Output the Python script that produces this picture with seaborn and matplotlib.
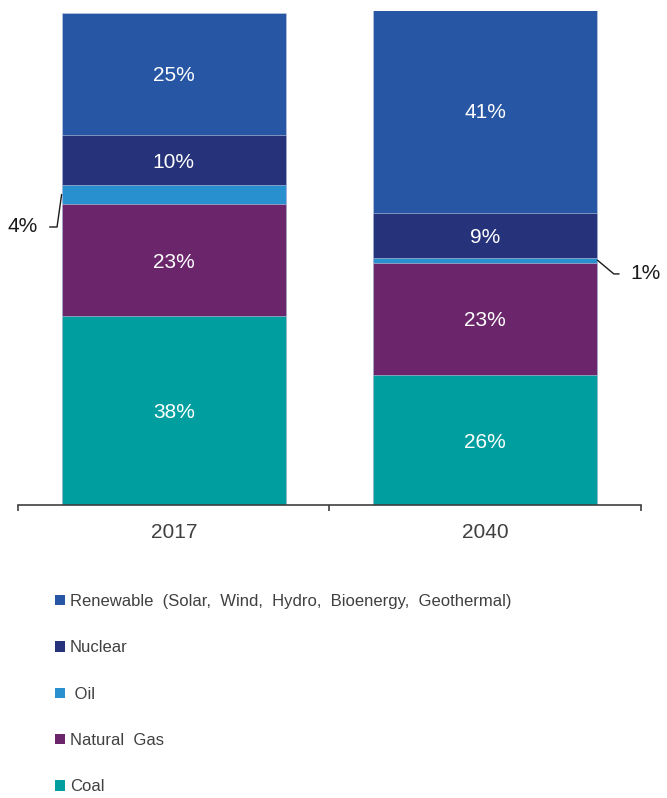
import numpy as np
import pandas as pd
import seaborn as sns
import matplotlib.pyplot as plt
from matplotlib.patches import Patch

# share of generation by source (percent)
years = ['2017', '2040']
sources = ['Coal', 'Natural Gas', 'Oil', 'Nuclear', 'Renewable']
coal = [38.2, 26.3]
natural_gas = [22.8, 22.8]
oil = [3.8, 1.0]
nuclear = [10.1, 9.1]
renewable = [24.8, 41.2]

legend_labels = {
    'Renewable': 'Renewable  (Solar,  Wind,  Hydro,  Bioenergy,  Geothermal)',
    'Nuclear': 'Nuclear',
    'Oil': ' Oil',
    'Natural Gas': 'Natural  Gas',
    'Coal': 'Coal',
}
colors = {
    'Coal': '#009e9e',
    'Natural Gas': '#6a256b',
    'Oil': '#2990d0',
    'Nuclear': '#26337a',
    'Renewable': '#2757a4',
}

sns.set_style('white')
plt.rcParams['font.family'] = ['Liberation Sans', 'DejaVu Sans']

shares = pd.DataFrame({'year': years, 'Coal': coal, 'Natural Gas': natural_gas,
                       'Oil': oil, 'Nuclear': nuclear, 'Renewable': renewable})
cum = shares[sources].cumsum(axis=1)

fig = plt.figure(figsize=(6.67, 7.98), dpi=100)
ax = fig.add_axes([0.027, 0.367, 0.934, 0.619])

# stacked bars: draw cumulative totals from the top down
for src in reversed(sources):
    sns.barplot(x=shares['year'], y=cum[src], color=colors[src], saturation=1,
                width=0.72, errorbar=None, edgecolor='#c5cde4', linewidth=0.4, ax=ax)

# labels inside segments
for i in range(len(years)):
    for src in sources:
        if src == 'Oil':
            continue
        val = shares.loc[i, src]
        mid = cum.loc[i, src] - val / 2
        ax.text(i, mid, f'{val:.0f}%', color='white', ha='center', va='center_baseline', fontsize=15)

# oil gets leader lines
oil_mid = cum['Oil'] - shares['Oil'] / 2
ax.annotate(f'{oil[0]:.0f}%', xy=(0 - 0.36, oil_mid[0]), xytext=(-17, -22),
            textcoords='offset points', ha='right', va='center_baseline', fontsize=15, color='#1a1a1a',
            arrowprops=dict(arrowstyle='-', color='#1a1a1a', lw=1, shrinkA=6, shrinkB=0,
                            relpos=(1, 0.5), connectionstyle='angle,angleA=0,angleB=82,rad=0'))
ax.annotate(f'{oil[1]:.0f}%', xy=(1 + 0.36, oil_mid[1]), xytext=(24, -8.5),
            textcoords='offset points', ha='left', va='center_baseline', fontsize=15, color='#1a1a1a',
            arrowprops=dict(arrowstyle='-', color='#1a1a1a', lw=1, shrinkA=6, shrinkB=0,
                            relpos=(0, 0.5), connectionstyle='angle,angleA=0,angleB=-40,rad=0'))

ax.set_xlim(-0.5, 1.5)
ax.set_ylim(0, 100)
ax.set_xlabel('')
ax.set_ylabel('')
ax.set_yticks([])
sns.despine(ax=ax, left=True)
ax.spines['bottom'].set_color('#404040')
ax.spines['bottom'].set_linewidth(1.2)
ax.set_xticks([0, 1])
ax.set_xticklabels(years)
ax.set_xticks([-0.5, 0.5, 1.5], minor=True)
ax.tick_params(axis='x', which='major', length=0, pad=13, labelsize=15, labelcolor='#404040')
ax.tick_params(axis='x', which='minor', length=4.3, width=1.2, color='#404040', direction='out', bottom=True)

handles = [Patch(facecolor=colors[s], edgecolor='none') for s in reversed(sources)]
labels = [legend_labels[s] for s in reversed(sources)]
fig.legend(handles, labels, loc='upper left', bbox_to_anchor=(55 / 667, 1 - 594 / 798),
           frameon=False, fontsize=12, handlelength=0.6, handleheight=0.6,
           handletextpad=0.3, labelspacing=1.88, borderpad=0, borderaxespad=0,
           labelcolor='#404040')

fig.savefig('out.png', dpi=100)
